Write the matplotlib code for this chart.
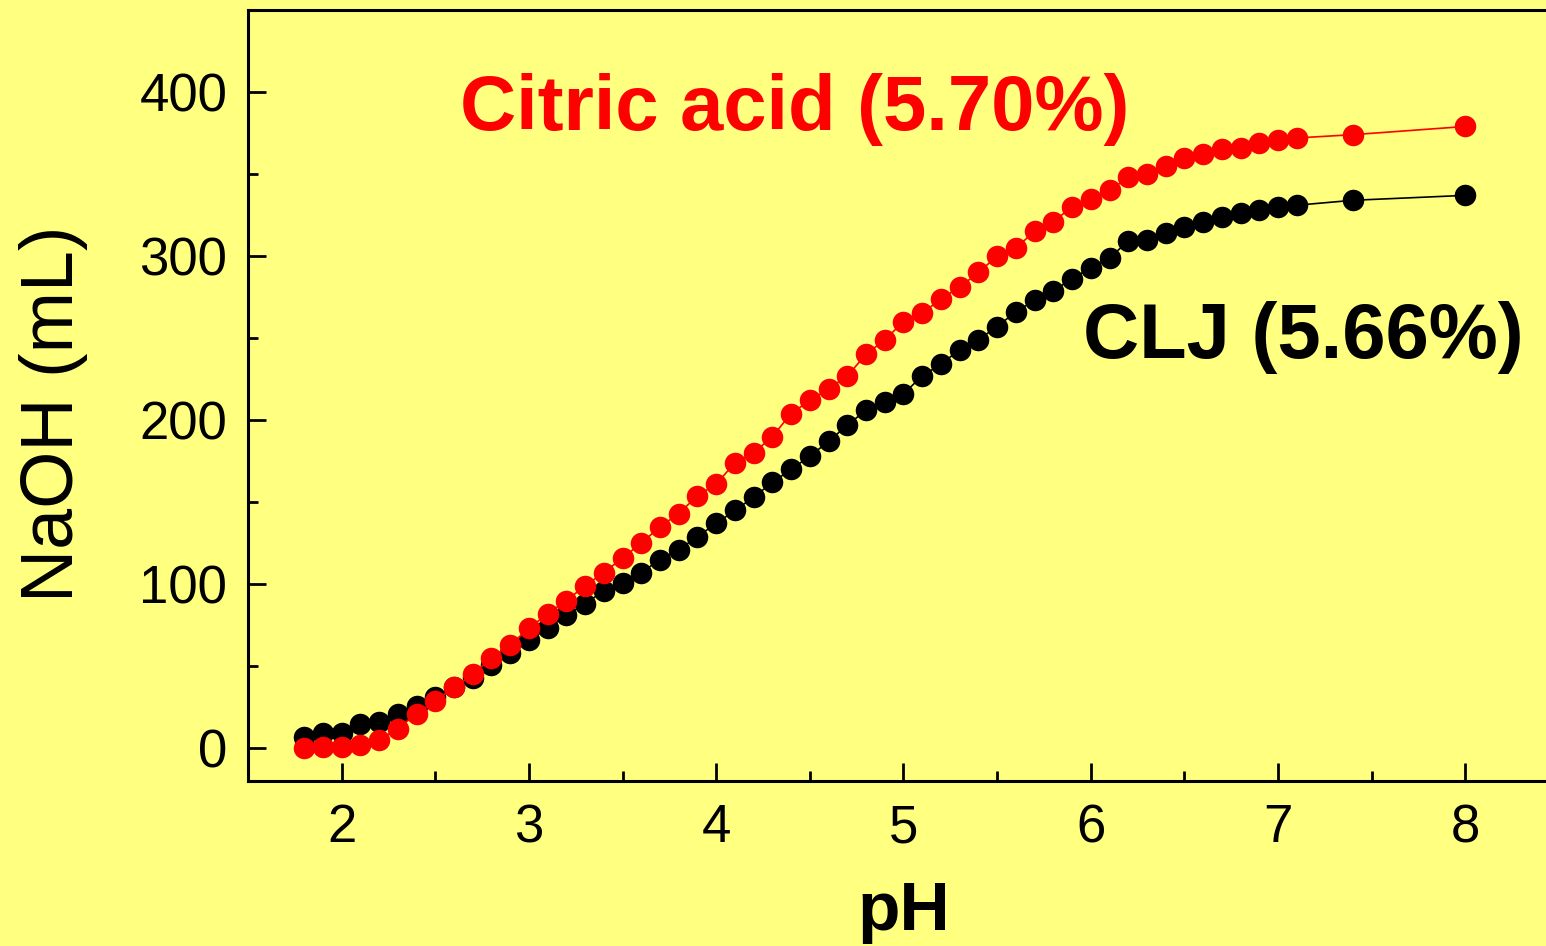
import matplotlib
matplotlib.use("Agg")
import matplotlib.pyplot as plt
from matplotlib.ticker import MultipleLocator

plt.rcParams['font.family'] = ['Liberation Sans', 'DejaVu Sans']

# pH values (shared by both series)
ph = [1.8, 1.9, 2.0, 2.1, 2.2, 2.3, 2.4, 2.5, 2.6, 2.7, 2.8, 2.9,
      3.0, 3.1, 3.2, 3.3, 3.4, 3.5, 3.6, 3.7, 3.8, 3.9,
      4.0, 4.1, 4.2, 4.3, 4.4, 4.5, 4.6, 4.7, 4.8, 4.9,
      5.0, 5.1, 5.2, 5.3, 5.4, 5.5, 5.6, 5.7, 5.8, 5.9,
      6.0, 6.1, 6.2, 6.3, 6.4, 6.5, 6.6, 6.7, 6.8, 6.9,
      7.0, 7.1, 7.4, 8.0]

# NaOH (mL) - CLJ (5.66%)
clj = [7, 9, 9, 15, 16, 21, 26, 31, 37, 43, 51, 58,
       66, 73, 81, 88, 96, 101, 107, 115, 121, 129,
       137, 145, 153, 162, 170, 178, 187, 197, 206, 211,
       216, 227, 234, 243, 249, 257, 266, 273, 279, 286,
       293, 299, 309, 310, 314, 318, 321, 324, 326, 328,
       330, 331, 334, 337]

# NaOH (mL) - Citric acid (5.70%)
citric = [0, 1, 1, 2, 5, 12, 21, 29, 37, 45, 55, 63,
          73, 82, 90, 99, 107, 116, 125, 135, 143, 154,
          161, 174, 180, 190, 204, 212, 219, 227, 240, 249,
          260, 265, 274, 281, 290, 300, 305, 315, 321, 330,
          335, 340, 348, 350, 355, 360, 362, 365, 366, 369,
          371, 372, 374, 379]

bg = '#ffff80'
fig = plt.figure(figsize=(15.46, 9.46), dpi=100, facecolor=bg)
ax = fig.add_axes([248/1546, 1-781/946, (1559-248)/1546, (781-10)/946])
ax.set_facecolor(bg)

ax.plot(ph, clj, color='black', lw=1.2, marker='o', ms=15.5, mew=0, zorder=3)
ax.plot(ph, citric, color='#ff0000', lw=1.2, marker='o', ms=15.5, mew=0, zorder=4)

ax.set_xlim(1.5, 8.5)
ax.set_ylim(-20, 450)
ax.xaxis.set_major_locator(MultipleLocator(1))
ax.xaxis.set_minor_locator(MultipleLocator(0.5))
ax.yaxis.set_major_locator(MultipleLocator(100))
ax.yaxis.set_minor_locator(MultipleLocator(50))

for s in ax.spines.values():
    s.set_linewidth(2.2)

ax.tick_params(which='both', direction='in', top=False, right=False, width=2)
ax.tick_params(which='major', length=13, labelsize=38)
ax.tick_params(axis='x', which='major', pad=16)
ax.tick_params(axis='y', which='major', pad=15)
ax.tick_params(which='minor', length=7)

ax.set_xlabel('pH', fontsize=50, fontweight='bold')
ax.xaxis.set_label_coords(0.5, -0.128)
ax.xaxis.label.set_va('top')
ax.set_ylabel('NaOH (mL)', fontsize=53)
ax.yaxis.set_label_coords(-0.122, 0.476)

ax.text(2.632, 377, 'Citric acid (5.70%)', color='#ff0000', fontsize=56,
        fontweight='bold', ha='left', va='baseline')
ax.text(5.958, 238, 'CLJ (5.66%)', color='black', fontsize=56,
        fontweight='bold', ha='left', va='baseline')

fig.savefig('out.png', dpi=100, facecolor=bg)
